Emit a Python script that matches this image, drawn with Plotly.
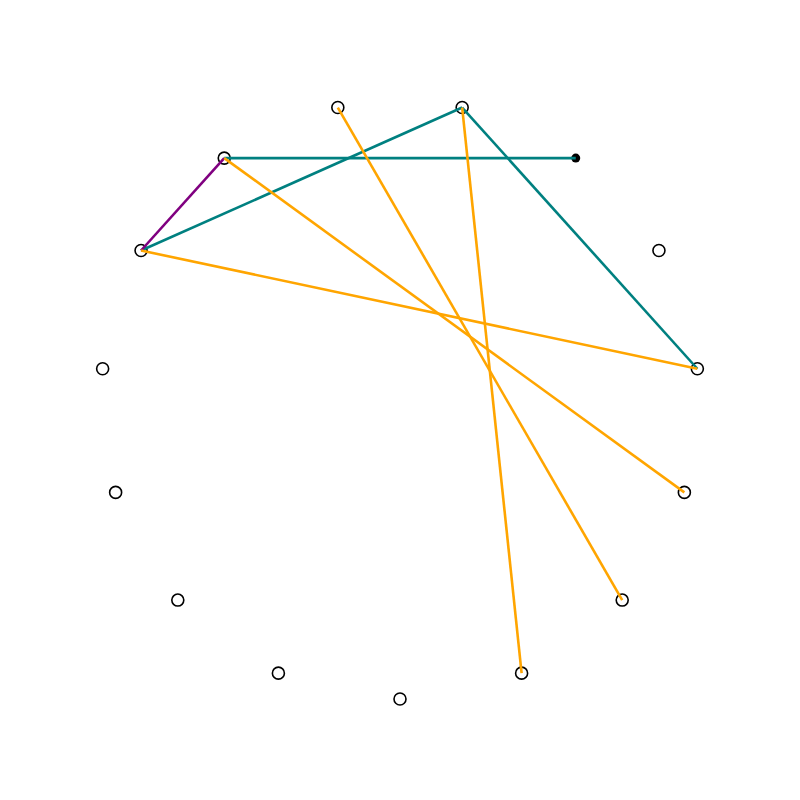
import numpy as np
import plotly.graph_objects as go

# Network: 15 nodes on a circular layout, node 0 at the bottom, counter-clockwise
n_nodes = 15
filled_nodes = [6]
teal_edges = [(9, 6), (10, 7), (7, 4)]
purple_edges = [(9, 10)]
orange_edges = [(10, 4), (9, 3), (8, 2), (7, 1)]
edge_colors = {"teal": "#008080", "purple": "#800080", "orange": "#FFA500"}

ang = -np.pi / 2 + 2 * np.pi * np.arange(n_nodes) / n_nodes
xs = np.cos(ang)
ys = np.sin(ang)

fig = go.Figure()

open_nodes = [i for i in range(n_nodes) if i not in filled_nodes]
fig.add_trace(go.Scatter(
    x=xs[open_nodes], y=ys[open_nodes], mode="markers",
    marker=dict(symbol="circle-open", size=12, color="black", line=dict(width=1.6)),
    hoverinfo="skip", showlegend=False))
fig.add_trace(go.Scatter(
    x=xs[filled_nodes], y=ys[filled_nodes], mode="markers",
    marker=dict(symbol="circle", size=9, color="black"),
    hoverinfo="skip", showlegend=False))

def add_edges(edges, color):
    ex, ey = [], []
    for a, b in edges:
        ex += [xs[a], xs[b], None]
        ey += [ys[a], ys[b], None]
    fig.add_trace(go.Scatter(x=ex, y=ey, mode="lines",
                             line=dict(color=color, width=2.6),
                             hoverinfo="skip", showlegend=False))

add_edges(teal_edges, edge_colors["teal"])
add_edges(purple_edges, edge_colors["purple"])
add_edges(orange_edges, edge_colors["orange"])

r = 392 / 299
fig.update_layout(
    width=784, height=784,
    margin=dict(l=0, r=0, t=0, b=0),
    paper_bgcolor="white", plot_bgcolor="white",
    xaxis=dict(range=[-r, r], visible=False, fixedrange=True),
    yaxis=dict(range=[-r, r], visible=False, fixedrange=True),
)

fig.write_html("out.html")
